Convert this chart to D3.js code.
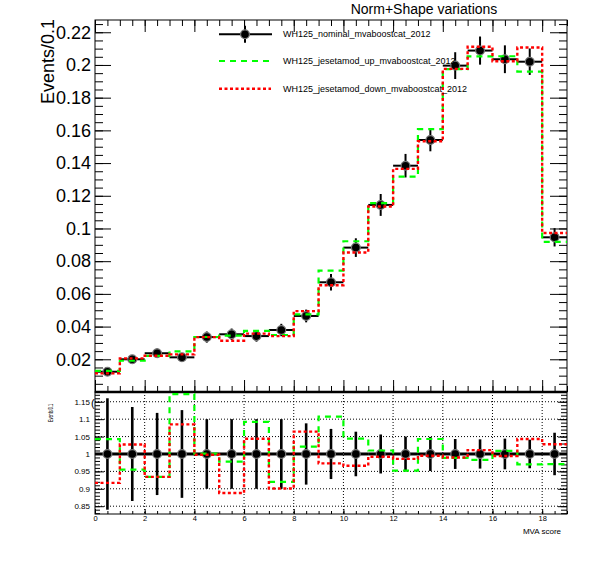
<!DOCTYPE html>
<html>
<head>
<meta charset="utf-8">
<script src="https://cdn.jsdelivr.net/npm/d3@7"></script>
<style>
  body { margin: 0; background: #fff; }
  svg { display: block; }
</style>
</head>
<body>
<svg id="chart" width="596" height="572"></svg>
<script>
// lower edge of each MVA score bin (width 1)
let bins = [0, 1, 2, 3, 4, 5, 6, 7, 8, 9, 10, 11, 12, 13, 14, 15, 16, 17, 18];

let nominal = [0.0124, 0.0200, 0.0237, 0.0212, 0.0336, 0.0353, 0.0342, 0.0379, 0.0465,
               0.0671, 0.0883, 0.1144, 0.1384, 0.1541, 0.1996, 0.2088, 0.2035, 0.2020, 0.0946];
let nominalErr = [0.0020, 0.0027, 0.0028, 0.0027, 0.0034, 0.0035, 0.0034, 0.0038, 0.0039,
                  0.0051, 0.0057, 0.0067, 0.0072, 0.0069, 0.0082, 0.0086, 0.0085, 0.0081, 0.0056];
let jesUp = [0.01293, 0.01910, 0.02214, 0.02485, 0.03363, 0.03452, 0.03735, 0.03487, 0.04748,
             0.07428, 0.09219, 0.11554, 0.13176, 0.16073, 0.19740, 0.20525, 0.20533, 0.19594, 0.09186];
let jesDown = [0.01137, 0.02054, 0.02214, 0.02300, 0.03353, 0.03135, 0.03570, 0.03415, 0.04948,
               0.06529, 0.08530, 0.11348, 0.13646, 0.15333, 0.19760, 0.21110, 0.20228, 0.21069, 0.09725];
// relative stat. error of the nominal, shown in the ratio pad
let ratioErr = [0.160, 0.135, 0.118, 0.126, 0.100, 0.100, 0.100, 0.100, 0.088,
                0.072, 0.064, 0.056, 0.050, 0.049, 0.043, 0.042, 0.044, 0.041, 0.061];

let topTicks = [0.02, 0.04, 0.06, 0.08, 0.1, 0.12, 0.14, 0.16, 0.18, 0.2, 0.22];
let ratioTicks = [0.85, 0.9, 0.95, 1, 1.05, 1.1, 1.15];
let xTicks = [0, 2, 4, 6, 8, 10, 12, 14, 16, 18];
let legendLabels = ["WH125_nominal_mvaboostcat_2012",
                    "WH125_jesetamod_up_mvaboostcat_2012",
                    "WH125_jesetamod_down_mvaboostcat_2012"];

let font = "'Liberation Sans', Arial, Helvetica, sans-serif";
let green = "#00ff00", red = "#ff0000";

let svg = d3.select("#chart");
svg.append("rect").attr("width", 596).attr("height", 572).attr("fill", "#fff");

let x = d3.scaleLinear().domain([0, 19]).range([95, 567]);
let yTop = d3.scaleLinear().domain([0, 0.2275]).range([392, 20]);
let yBot = d3.scaleLinear().domain([0.8276, 1.178]).range([514, 392]);

let xMinor = d3.range(0, 19.01, 0.5);
let yTopMinor = d3.range(0.005, 0.2275, 0.005);
let yBotMinor = d3.range(0.83, 1.178, 0.01);

function putAxis(axis, tx, ty, size) {
  let g = svg.append("g").attr("transform", `translate(${tx},${ty})`).call(axis);
  g.select(".domain").remove();
  g.selectAll("line").attr("stroke", "#000");
  g.attr("font-family", font).attr("font-size", size);
  g.selectAll("text").attr("fill", "#000");
  return g;
}
let noLabel = () => "";

// ---- top pad axes ----
putAxis(d3.axisLeft(yTop).tickValues(topTicks).tickSize(-16).tickPadding(4)
          .tickFormat(d3.format("")), 95, 0, 18);
putAxis(d3.axisLeft(yTop).tickValues(yTopMinor).tickSize(-8).tickFormat(noLabel), 95, 0, 10);
putAxis(d3.axisRight(yTop).tickValues(topTicks).tickSize(-17).tickFormat(noLabel), 567, 0, 10);
putAxis(d3.axisRight(yTop).tickValues(yTopMinor).tickSize(-8).tickFormat(noLabel), 567, 0, 10);
putAxis(d3.axisTop(x).tickValues(xTicks).tickSize(-12).tickFormat(noLabel), 0, 20, 10);
putAxis(d3.axisTop(x).tickValues(xMinor).tickSize(-6).tickFormat(noLabel), 0, 20, 10);
putAxis(d3.axisBottom(x).tickValues(xTicks).tickSize(-12).tickFormat(noLabel), 0, 392, 10);
putAxis(d3.axisBottom(x).tickValues(xMinor).tickSize(-6).tickFormat(noLabel), 0, 392, 10);

svg.append("rect")
  .attr("x", x(0)).attr("y", yTop(0.2275))
  .attr("width", x(19) - x(0)).attr("height", yTop(0) - yTop(0.2275))
  .attr("fill", "none").attr("stroke", "#000");

// ---- ratio pad grid and axes ----
let grid = svg.append("g").attr("stroke", "#000").attr("stroke-width", 1)
  .attr("stroke-dasharray", "1,2");
grid.selectAll("line.h").data(ratioTicks).enter().append("line")
  .attr("x1", x(0)).attr("x2", x(19))
  .attr("y1", d => yBot(d)).attr("y2", d => yBot(d));
grid.selectAll("line.v").data(xTicks.filter(d => d > 0)).enter().append("line")
  .attr("x1", d => x(d)).attr("x2", d => x(d))
  .attr("y1", yBot(1.178)).attr("y2", yBot(0.8276));

putAxis(d3.axisLeft(yBot).tickValues(ratioTicks).tickSize(-9).tickPadding(5)
          .tickFormat(d3.format("")), 95, 0, 8);
putAxis(d3.axisLeft(yBot).tickValues(yBotMinor).tickSize(-5).tickFormat(noLabel), 95, 0, 8);
putAxis(d3.axisRight(yBot).tickValues(ratioTicks).tickSize(-9).tickFormat(noLabel), 567, 0, 8);
putAxis(d3.axisRight(yBot).tickValues(yBotMinor).tickSize(-6).tickFormat(noLabel), 567, 0, 8);
putAxis(d3.axisBottom(x).tickValues(xTicks).tickSize(-5).tickPadding(2)
          .tickFormat(d3.format("")), 0, 514, 7.5);
putAxis(d3.axisBottom(x).tickValues(xMinor).tickSize(-3).tickFormat(noLabel), 0, 514, 8);

svg.append("rect")
  .attr("x", x(0)).attr("y", yBot(1.178))
  .attr("width", x(19) - x(0)).attr("height", yBot(0.8276) - yBot(1.178))
  .attr("fill", "none").attr("stroke", "#000");
svg.append("line")
  .attr("x1", x(0)).attr("x2", x(19))
  .attr("y1", yBot(1.178)).attr("y2", yBot(1.178))
  .attr("stroke", "#000").attr("stroke-width", 2.5);

// ---- helpers ----
function stepPath(vals, y) {
  let pts = [];
  vals.forEach((v, i) => { pts.push([bins[i], v]); pts.push([bins[i] + 1, v]); });
  return d3.line().x(d => x(d[0])).y(d => y(d[1]))(pts);
}

function drawPoints(g, vals, errs, y, lw) {
  g.selectAll("line.xe").data(vals).enter().append("line")
    .attr("x1", (d, i) => x(bins[i])).attr("x2", (d, i) => x(bins[i] + 1))
    .attr("y1", d => y(d)).attr("y2", d => y(d))
    .attr("stroke", "#000").attr("stroke-width", lw);
  g.selectAll("line.ye").data(vals).enter().append("line")
    .attr("x1", (d, i) => x(bins[i] + 0.5)).attr("x2", (d, i) => x(bins[i] + 0.5))
    .attr("y1", (d, i) => y(d - errs[i])).attr("y2", (d, i) => y(d + errs[i]))
    .attr("stroke", "#000").attr("stroke-width", lw);
  g.selectAll("circle").data(vals).enter().append("circle")
    .attr("cx", (d, i) => x(bins[i] + 0.5)).attr("cy", d => y(d))
    .attr("r", 4.4).attr("fill", "#000")
    .attr("stroke", "#777").attr("stroke-width", 1.2);
}

// ---- top pad contents ----
drawPoints(svg.append("g").attr("id", "nominal"), nominal, nominalErr, yTop, 2);

svg.append("path").attr("d", stepPath(jesUp, yTop))
  .attr("fill", "none").attr("stroke", green).attr("stroke-width", 2.2)
  .attr("stroke-dasharray", "6,5");
svg.append("path").attr("d", stepPath(jesDown, yTop))
  .attr("fill", "none").attr("stroke", red).attr("stroke-width", 2.4)
  .attr("stroke-dasharray", "3,2.5");

// ---- ratio pad contents ----
svg.append("clipPath").attr("id", "ratioClip")
  .append("rect")
  .attr("x", x(0)).attr("y", yBot(1.178))
  .attr("width", x(19) - x(0)).attr("height", yBot(0.8276) - yBot(1.178));

let ratioG = svg.append("g").attr("clip-path", "url(#ratioClip)");
let ones = nominal.map(d => d / d);
drawPoints(ratioG.append("g"), ones, ratioErr, yBot, 2.6);
ratioG.selectAll("line").filter(function() { return this.getAttribute("y1") === this.getAttribute("y2"); })
  .attr("stroke-width", 3);

let upRatio = jesUp.map((d, i) => d / nominal[i]);
let downRatio = jesDown.map((d, i) => d / nominal[i]);
ratioG.append("path").attr("d", stepPath(upRatio, yBot))
  .attr("fill", "none").attr("stroke", green).attr("stroke-width", 2.2)
  .attr("stroke-dasharray", "6,5");
ratioG.append("path").attr("d", stepPath(downRatio, yBot))
  .attr("fill", "none").attr("stroke", red).attr("stroke-width", 2.4)
  .attr("stroke-dasharray", "3,2.5");

// ---- legend ----
let leg = svg.append("g");
let legY = [34.3, 61, 88.7];
leg.append("line").attr("x1", 219).attr("x2", 272).attr("y1", legY[0]).attr("y2", legY[0])
  .attr("stroke", "#000").attr("stroke-width", 2);
leg.append("line").attr("x1", 245).attr("x2", 245).attr("y1", legY[0] - 8.5).attr("y2", legY[0] + 8.5)
  .attr("stroke", "#000").attr("stroke-width", 2);
leg.append("circle").attr("cx", 245).attr("cy", legY[0]).attr("r", 4.4)
  .attr("fill", "#000").attr("stroke", "#777").attr("stroke-width", 1.2);
leg.append("line").attr("x1", 219).attr("x2", 272).attr("y1", legY[1]).attr("y2", legY[1])
  .attr("stroke", green).attr("stroke-width", 2.2).attr("stroke-dasharray", "6,5");
leg.append("line").attr("x1", 219).attr("x2", 271).attr("y1", legY[2]).attr("y2", legY[2])
  .attr("stroke", red).attr("stroke-width", 2.4).attr("stroke-dasharray", "3,2.5");
leg.selectAll("text").data(legendLabels).enter().append("text")
  .attr("x", 283).attr("y", (d, i) => legY[i]).attr("dy", "0.35em")
  .attr("font-family", font).attr("font-size", 9).attr("fill", "#000")
  .text(d => d);

// ---- texts ----
svg.append("text").attr("x", 424).attr("y", 14).attr("text-anchor", "middle")
  .attr("font-family", font).attr("font-size", 14).text("Norm+Shape variations");
svg.append("text").attr("transform", "translate(54,19) rotate(-90)")
  .attr("text-anchor", "end").attr("font-family", font).attr("font-size", 18)
  .text("Events/0.1");
svg.append("text").attr("transform", "translate(53.3,404) rotate(-90)")
  .attr("text-anchor", "end").attr("font-family", font).attr("font-size", 7)
  .attr("textLength", 18).attr("lengthAdjust", "spacingAndGlyphs")
  .text("Events/0.1");
svg.append("text").attr("x", 561).attr("y", 534).attr("text-anchor", "end")
  .attr("font-family", font).attr("font-size", 8).text("MVA score");
svg.append("text").attr("x", 91).attr("y", 407)
  .attr("font-family", font).attr("font-size", 11).text("(");
</script>
</body>
</html>
